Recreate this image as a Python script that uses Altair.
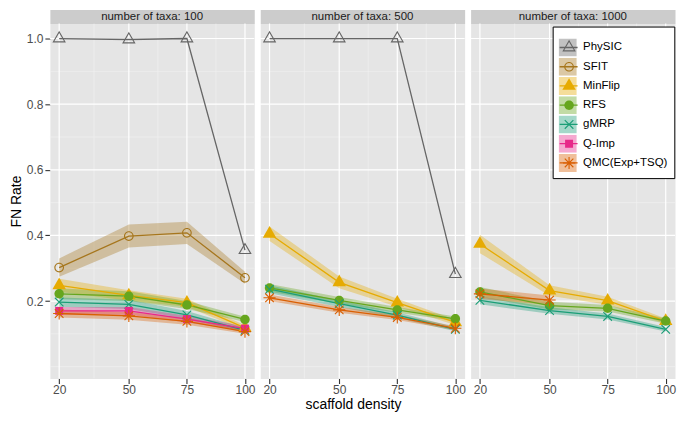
import math
import altair as alt
import pandas as pd

# ---------------- data ----------------
taxa_counts = [100, 500, 1000]
densities = [20, 50, 75, 100]
methods = ["PhySIC", "SFIT", "MinFlip", "RFS", "gMRP", "Q-Imp", "QMC(Exp+TSQ)"]
colors = ["#666666", "#A6761D", "#E6AB02", "#66A61E", "#1B9E77", "#E7298A", "#D95F02"]

fn_100 = {
    "PhySIC": [1.0, 0.997, 1.0, 0.355],
    "SFIT": [0.302, 0.398, 0.408, 0.271],
    "MinFlip": [0.248, 0.217, 0.195, 0.118],
    "RFS": [0.222, 0.215, 0.188, 0.144],
    "gMRP": [0.197, 0.190, 0.158, 0.111],
    "Q-Imp": [0.170, 0.170, 0.145, 0.116],
    "QMC(Exp+TSQ)": [0.162, 0.155, 0.138, 0.107],
}
band_100 = {
    "PhySIC": [0, 0, 0, 0],
    "SFIT": [0.028, 0.035, 0.034, 0.018],
    "MinFlip": [0.020, 0.016, 0.012, 0.008],
    "RFS": [0.016, 0.015, 0.012, 0.008],
    "gMRP": [0.014, 0.014, 0.012, 0.007],
    "Q-Imp": [0.012, 0.012, 0.010, 0.007],
    "QMC(Exp+TSQ)": [0.012, 0.012, 0.010, 0.007],
}
fn_500 = {
    "PhySIC": [1.0, 1.0, 1.0, 0.282],
    "MinFlip": [0.405, 0.257, 0.195, 0.135],
    "RFS": [0.240, 0.202, 0.173, 0.146],
    "gMRP": [0.236, 0.192, 0.157, 0.114],
    "QMC(Exp+TSQ)": [0.210, 0.173, 0.150, 0.117],
}
band_500 = {
    "PhySIC": [0, 0, 0, 0],
    "MinFlip": [0.022, 0.018, 0.012, 0.008],
    "RFS": [0.012, 0.010, 0.009, 0.007],
    "gMRP": [0.012, 0.010, 0.009, 0.006],
    "QMC(Exp+TSQ)": [0.010, 0.009, 0.008, 0.006],
}
fn_1000 = {
    "MinFlip": [0.374, 0.232, 0.201, 0.139],
    "RFS": [0.228, 0.186, 0.178, 0.139],
    "gMRP": [0.202, 0.171, 0.153, 0.114],
    "QMC(Exp+TSQ)": [0.222, 0.203, None, None],
}
band_1000 = {
    "MinFlip": [0.028, 0.016, 0.012, 0.008],
    "RFS": [0.015, 0.012, 0.010, 0.008],
    "gMRP": [0.012, 0.010, 0.009, 0.007],
    "QMC(Exp+TSQ)": [0.016, 0.014, None, None],
}

y_major = [0.2, 0.4, 0.6, 0.8, 1.0]
y_minor = [0.0, 0.1, 0.3, 0.5, 0.7, 0.9]
x_minor = [35, 62.5, 87.5]

# ---------------- build table ----------------
rows = []
for t, fn, bd in [(100, fn_100, band_100), (500, fn_500, band_500), (1000, fn_1000, band_1000)]:
    for m in methods:
        if m not in fn:
            continue
        for i, d in enumerate(densities):
            v = fn[m][i]
            if v is None:
                continue
            h = bd[m][i]
            rows.append(dict(taxa=t, density=d, method=m, method_a=m, method_c=m,
                             fn=v, lo=v - h, hi=v + h))
df = pd.DataFrame(rows)


# ---------------- symbol paths (units of point radius) ----------------
def f(v):
    return f"{v:.3f}"


def tri(k, rev=False):
    a, b, w = 1.555 * k, 0.778 * k, 1.347 * k
    pts = [(0, -a), (w, b), (-w, b)]
    if rev:
        pts = [pts[0], pts[2], pts[1]]
    return "M" + " L".join(f"{f(x)},{f(y)}" for x, y in pts) + " Z"


def circ(r, rev=False):
    s = 0 if rev else 1
    return (f"M{f(r)},0 A{f(r)},{f(r)} 0 1,{s} {f(-r)},0 "
            f"A{f(r)},{f(r)} 0 1,{s} {f(r)},0 Z")


def bar(x1, y1, x2, y2, t=0.26):
    dx, dy = x2 - x1, y2 - y1
    L = math.hypot(dx, dy)
    nx, ny = -dy / L * t / 2, dx / L * t / 2
    pts = [(x1 + nx, y1 + ny), (x2 + nx, y2 + ny), (x2 - nx, y2 - ny), (x1 - nx, y1 - ny)]
    return "M" + " L".join(f"{f(x)},{f(y)}" for x, y in pts) + " Z"


shape_open_tri = tri(1.167) + " " + tri(0.833, rev=True)
shape_open_circle = circ(1.13) + " " + circ(0.87, rev=True)
shape_tri = tri(1.167)
shape_circle = circ(1.1)
shape_x = bar(-1, -1, 1, 1) + " " + bar(-1, 1, 1, -1)
shape_square = "M-0.93,-0.93 L0.93,-0.93 L0.93,0.93 L-0.93,0.93 Z"
shape_star = (bar(-1, -1, 1, 1) + " " + bar(-1, 1, 1, -1) + " " +
              bar(-1.414, 0, 1.414, 0) + " " + bar(0, -1.414, 0, 1.414))
shapes = [shape_open_tri, shape_open_circle, shape_tri, shape_circle,
          shape_x, shape_square, shape_star]

FONT = "Liberation Sans"
W, H, SH, GAP = 205, 356, 14, 6
LX, LY = 504.3, 17

leg_common = dict(orient="none", legendX=LX, legendY=LY, title=" ", titleFontSize=6,
                  titlePadding=0, padding=6, rowPadding=1.3, clipHeight=18,
                  labelFont=FONT, labelFontSize=11.5, labelColor="black")
leg_squares = alt.Legend(symbolType="square", symbolSize=324, symbolOpacity=0.4,
                         symbolStrokeWidth=0, labelOffset=6.5,
                         fillColor="white", strokeColor="black", **leg_common)
leg_lines = alt.Legend(symbolType="stroke", symbolSize=324, symbolStrokeWidth=1.3,
                       labelExpr="''", **leg_common)
leg_points = alt.Legend(symbolSize=74, symbolStrokeWidth=0, symbolOpacity=1,
                        symbolOffset=4.7, labelExpr="''", **leg_common)

xs = alt.Scale(domain=[16, 104], nice=False, zero=False)
ys = alt.Scale(domain=[-0.036, 1.0456], nice=False, zero=False)


def panel(t, idx):
    x_axis = alt.Axis(values=densities, grid=False, domain=False, tickSize=5,
                      tickColor="#333333", tickWidth=1.1, labelFontSize=12,
                      labelColor="#4D4D4D", labelPadding=1, labelFont=FONT,
                      titleFont=FONT, titleFontSize=14, titleFontWeight="normal",
                      titleColor="black", titleX=93, titlePadding=2)
    x_title = "scaffold density" if idx == 1 else None

    def X(field):
        return alt.X(field, scale=xs, axis=x_axis, title=x_title)

    if idx == 0:
        y_axis = alt.Axis(values=y_major, format=".1f", grid=False, domain=False,
                          tickSize=5, tickColor="#333333", tickWidth=1.1,
                          labelFontSize=12, labelColor="#4D4D4D", labelPadding=2,
                          labelFont=FONT, titleFont=FONT, titleFontSize=14,
                          titleFontWeight="normal", titleColor="black", titlePadding=3)

        def Y(field):
            return alt.Y(field, scale=ys, axis=y_axis, title="FN Rate")
    else:
        def Y(field):
            return alt.Y(field, scale=ys, axis=None)

    vmin = alt.Chart(pd.DataFrame({"v": x_minor})).mark_rule(
        color="#F2F2F2", strokeWidth=0.6).encode(x=X("v:Q"))
    hmin = alt.Chart(pd.DataFrame({"v": y_minor})).mark_rule(
        color="#F2F2F2", strokeWidth=0.6).encode(y=Y("v:Q"))
    vmaj = alt.Chart(pd.DataFrame({"v": densities})).mark_rule(
        color="white", strokeWidth=1.2).encode(x=X("v:Q"))
    hmaj = alt.Chart(pd.DataFrame({"v": y_major})).mark_rule(
        color="white", strokeWidth=1.2).encode(y=Y("v:Q"))

    base = alt.Chart(df).transform_filter(alt.datum.taxa == t)
    area = base.mark_area(fillOpacity=0.35).encode(
        x=X("density:Q"),
        y=Y("lo:Q"),
        y2="hi:Q",
        fill=alt.Fill("method_a:N", sort=methods, scale=alt.Scale(range=colors),
                      legend=leg_squares),
    )
    line = base.mark_line(strokeWidth=1.3).encode(
        x=X("density:Q"),
        y=Y("fn:Q"),
        stroke=alt.Stroke("method_c:N", sort=methods, scale=alt.Scale(range=colors),
                          legend=leg_lines),
    )
    pts = base.mark_point(filled=True, size=74, opacity=1, strokeWidth=0).encode(
        x=X("density:Q"),
        y=Y("fn:Q"),
        color=alt.Color("method:N", scale=alt.Scale(domain=methods, range=colors),
                        legend=leg_points),
        shape=alt.Shape("method:N", scale=alt.Scale(domain=methods, range=shapes),
                        legend=leg_points),
    )
    return alt.layer(hmin, vmin, hmaj, vmaj, area, line, pts).properties(width=W, height=H)


def strip(t):
    return alt.Chart(pd.DataFrame({"label": [f"number of taxa: {t}"]})).mark_text(
        font=FONT, fontSize=11.5, color="#1A1A1A", baseline="middle"
    ).encode(text="label:N").properties(
        width=W, height=SH, view=alt.ViewBackground(fill="#CCCCCC", stroke="transparent"))


charts = [strip(t) for t in taxa_counts] + [panel(t, i) for i, t in enumerate(taxa_counts)]
chart = alt.concat(*charts, columns=3, spacing=alt.RowColnumber(row=0, column=GAP),
                   bounds="flush").properties(
    padding={"left": 0, "top": 0, "right": 0, "bottom": 0}
).configure(font=FONT).configure_view(fill="#E5E5E5", stroke="transparent")

chart.save("out.html", embed_options={"renderer": "svg", "actions": False})
